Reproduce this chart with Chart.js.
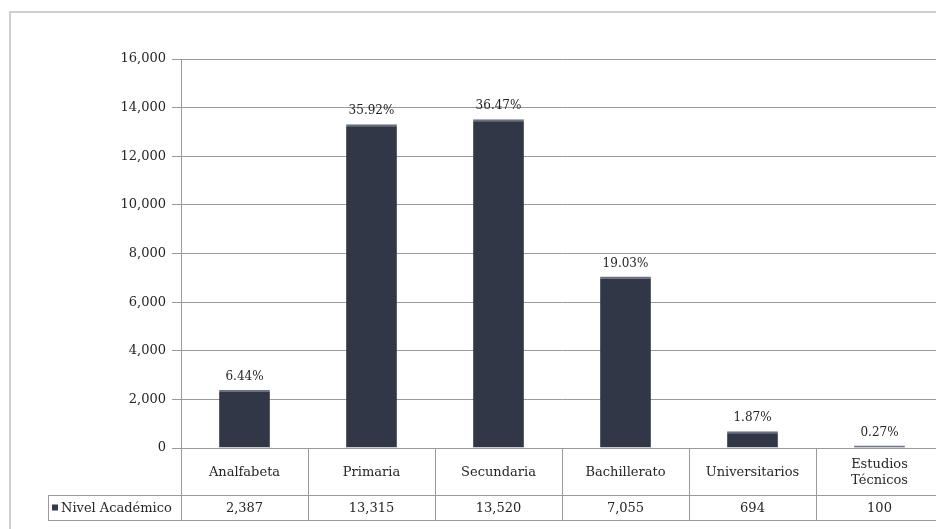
<!DOCTYPE html>
<html>
<head>
<meta charset="utf-8">
<script src="https://cdn.jsdelivr.net/npm/chart.js@4/dist/chart.umd.min.js"></script>
<style>
  html, body { margin: 0; padding: 0; background: #fff; overflow: hidden; }
  #wrap { position: relative; width: 936px; height: 529px; overflow: hidden; }
  #frame { position: absolute; left: 9px; top: 11px; width: 980px; height: 600px; border: 2px solid #cfcfcf; }
  #c { position: absolute; left: 0; top: 0; }
</style>
</head>
<body>
<div id="wrap">
  <div id="frame"></div>
  <canvas id="c" width="950" height="529"></canvas>
</div>
<script>
// niveles academicos
const categories = ['Analfabeta', 'Primaria', 'Secundaria', 'Bachillerato', 'Universitarios', ['Estudios', 'Técnicos']];
const values = [2387, 13315, 13520, 7055, 694, 100];
const percents = ['6.44%', '35.92%', '36.47%', '19.03%', '1.87%', '0.27%'];
const seriesName = 'Nivel Académico';
const yTicks = [0, 2000, 4000, 6000, 8000, 10000, 12000, 14000, 16000];

const FONT = '"DejaVu Serif", "Liberation Serif", serif';
const LINE = '#9a9a9a';
const TXT = '#262626';

function fmt(n) { return n.toLocaleString('en-US'); }

// percent labels above bars + data table under the axis
const tablePlugin = {
  id: 'tablePlugin',
  afterDatasetsDraw(chart) {
    const ctx = chart.ctx;
    const meta = chart.getDatasetMeta(0);
    ctx.save();
    ctx.fillStyle = TXT;
    ctx.font = '12px ' + FONT;
    ctx.textAlign = 'center';
    ctx.textBaseline = 'bottom';
    meta.data.forEach((bar, i) => {
      ctx.fillText(percents[i], bar.x, bar.y - 7);
    });
    ctx.restore();
  },
  afterDraw(chart) {
    const ctx = chart.ctx;
    const area = chart.chartArea;
    const x = chart.scales.x;
    const n = categories.length;
    const w = (area.right - area.left) / n;
    const top = area.bottom, mid = area.bottom + 47, bot = area.bottom + 72;
    const legendLeft = 48;

    ctx.save();
    ctx.strokeStyle = LINE;
    ctx.lineWidth = 1;
    ctx.beginPath();
    for (let i = 0; i <= n; i++) {
      const px = Math.round(area.left + i * w) + 0.5;
      ctx.moveTo(px, top);
      ctx.lineTo(px, bot);
    }
    ctx.moveTo(legendLeft + 0.5, mid);
    ctx.lineTo(legendLeft + 0.5, bot);
    ctx.moveTo(legendLeft, mid + 0.5);
    ctx.lineTo(chart.width, mid + 0.5);
    ctx.moveTo(legendLeft, bot + 0.5);
    ctx.lineTo(chart.width, bot + 0.5);
    ctx.stroke();

    ctx.fillStyle = TXT;
    ctx.font = '13px ' + FONT;
    ctx.textAlign = 'center';
    ctx.textBaseline = 'middle';
    categories.forEach((c, i) => {
      const cx = x.getPixelForValue(i);
      const lines = Array.isArray(c) ? c : [c];
      const cy = (top + mid) / 2 + 1;
      lines.forEach((ln, j) => {
        ctx.fillText(ln, cx, cy + (j - (lines.length - 1) / 2) * 16);
      });
      ctx.fillText(fmt(values[i]), cx, (mid + bot) / 2 + 1);
    });

    // legend cell
    ctx.fillStyle = '#343a4b';
    ctx.fillRect(legendLeft + 4, (mid + bot) / 2 - 3, 6, 6);
    ctx.fillStyle = TXT;
    ctx.textAlign = 'left';
    ctx.fillText(seriesName, legendLeft + 13, (mid + bot) / 2 + 1);
    ctx.restore();
  }
};

new Chart(document.getElementById('c'), {
  type: 'bar',
  data: {
    labels: categories,
    datasets: [{
      label: seriesName,
      data: values,
      backgroundColor: '#323748',
      borderColor: '#6c7180',
      borderWidth: { top: 2, left: 0, right: 0, bottom: 0 },
      borderSkipped: 'bottom',
      barPercentage: 0.4,
      categoryPercentage: 1.0
    }]
  },
  options: {
    responsive: false,
    animation: false,
    devicePixelRatio: 1,
    layout: { padding: { top: 59, right: 7, bottom: 0, left: 0 } },
    plugins: { legend: { display: false }, tooltip: { enabled: false } },
    scales: {
      x: {
        ticks: { display: false },
        grid: { display: false },
        border: { color: LINE },
        afterFit(scale) { scale.height = 81; }
      },
      y: {
        min: 0,
        max: 16000,
        afterBuildTicks(scale) { scale.ticks = yTicks.map(v => ({ value: v })); },
        ticks: {
          color: TXT,
          padding: 6,
          font: { family: FONT, size: 13 },
          callback: v => fmt(v)
        },
        grid: { color: LINE, tickLength: 9, tickColor: LINE },
        border: { color: LINE },
        afterFit(scale) { scale.width = 181; }
      }
    }
  },
  plugins: [tablePlugin]
});
</script>
</body>
</html>
